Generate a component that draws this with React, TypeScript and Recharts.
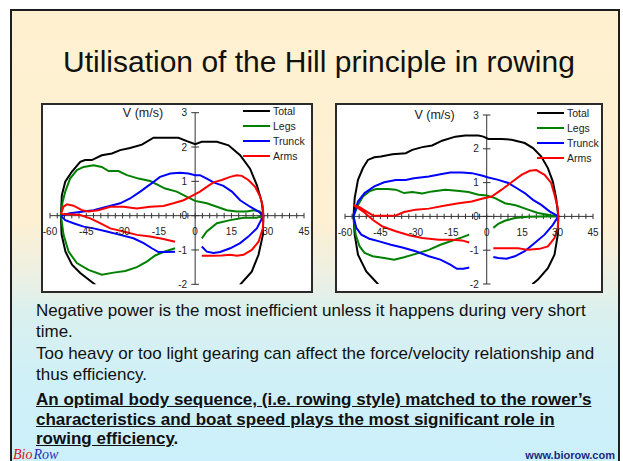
import React from 'react';
import { LineChart, Line, XAxis, YAxis, ReferenceLine, ReferenceDot, Legend } from 'recharts';

type P = [number, number];

const seriesNames = ['Total', 'Legs', 'Trunck', 'Arms'];
const seriesColors = ['#000000', '#008000', '#0000FF', '#FF0000'];
const xTickLabels = [-60, -45, -30, -15, 0, 15, 30, 45];
const xMinorTicks = [-60, -57, -54, -51, -48, -45, -42, -39, -36, -33, -30, -27, -24, -21, -18, -15, -12, -9, -6, -3, 0, 3, 6, 9, 12, 15, 18, 21, 24, 27, 30, 33, 36, 39, 42, 45];
const yTickLabels = [-2, -1, 0, 1, 2, 3];

// ---------- Left chart ----------
const leftTotalDrive: P[] = [[-55.5, 0], [-55.1, 0.6], [-53.7, 0.99], [-51, 1.28], [-47.5, 1.57], [-45.5, 1.62], [-42.7, 1.62], [-38.6, 1.76], [-34.4, 1.81], [-31, 1.91], [-26.9, 1.97], [-22, 2.07], [-17.2, 2.27], [-11.7, 2.27], [-6.9, 2.27], [-3.4, 2.17], [0, 2.08], [2.75, 2.15], [9, 2.15], [13.8, 2.05], [18.6, 1.76], [22.7, 1.37], [25.5, 0.89], [27.5, 0.41], [28.2, 0]];
const leftTotalRecR: P[] = [[28.2, 0], [28, -0.56], [26.2, -1.14], [23.4, -1.63], [18.6, -2.01], [16.5, -2.25]];
const leftTotalRecL: P[] = [[-39.5, -2.2], [-41.3, -2.01], [-47.5, -1.67], [-50.9, -1.43], [-53.6, -1.05], [-55.2, -0.55], [-55.5, 0]];

const leftLegsDrive: P[] = [[-55.5, 0], [-54.8, 0.4], [-53.7, 0.7], [-51.7, 1.08], [-48.9, 1.33], [-46.1, 1.42], [-42, 1.47], [-38.6, 1.42], [-35.8, 1.3], [-31.7, 1.3], [-28.2, 1.18], [-23.4, 1.08], [-18.6, 1.01], [-15.2, 0.89], [-12.4, 0.79], [-7.6, 0.7], [-3.4, 0.55], [0, 0.43], [4.8, 0.36], [9, 0.26], [13.1, 0.16], [17.2, 0.12], [21.3, 0.12], [24.1, 0.16], [26.9, 0.12], [28.2, 0]];
const leftLegsRecR: P[] = [[28.2, 0], [25.5, -0.06], [20, -0.06], [14.5, -0.13], [9, -0.22], [4.8, -0.46], [2.75, -0.66]];
const leftLegsRecL: P[] = [[-8.3, -0.95], [-13.1, -1.06], [-16.5, -1.16], [-20, -1.34], [-24.1, -1.5], [-28.9, -1.61], [-33.7, -1.66], [-38.6, -1.72], [-44.1, -1.58], [-48.9, -1.38], [-52.3, -1.05], [-54.4, -0.56], [-55.5, 0]];

const leftTrunkDrive: P[] = [[-55.5, 0], [-51.7, 0.07], [-46.1, 0.12], [-42, 0.16], [-36.5, 0.26], [-31, 0.36], [-26.9, 0.5], [-22.7, 0.7], [-18.6, 0.91], [-14.5, 1.13], [-10.3, 1.23], [-6.2, 1.25], [-2.75, 1.23], [0, 1.18], [2, 1.18], [4.8, 1.08], [7.6, 0.97], [11.7, 0.87], [15.2, 0.7], [18.6, 0.45], [22.7, 0.26], [26.2, 0.12], [28.2, 0]];
const leftTrunkRecR: P[] = [[28.2, 0], [25.5, -0.37], [22, -0.61], [18.6, -0.8], [14.5, -0.95], [10.3, -1.06], [7.6, -1.09], [4.8, -1.05], [2.75, -0.9]];
const leftTrunkRecL: P[] = [[-8.3, -1.05], [-11.7, -1.06], [-15.2, -1.06], [-17.9, -0.95], [-21.3, -0.8], [-25.5, -0.66], [-31, -0.56], [-36.5, -0.46], [-42, -0.37], [-46.1, -0.32], [-50.3, -0.22], [-53.7, -0.13], [-55.5, 0]];

const leftArmsDrive: P[] = [[-55.5, 0.05], [-54.4, 0.26], [-53, 0.33], [-50.3, 0.29], [-46.8, 0.16], [-44.1, 0.12], [-40, 0.16], [-35.1, 0.26], [-29.6, 0.26], [-24.1, 0.21], [-18.6, 0.26], [-13.1, 0.28], [-9, 0.36], [-4.8, 0.45], [-0.7, 0.6], [2, 0.7], [4.8, 0.84], [7.6, 0.97], [11, 1.04], [14.5, 1.13], [17.2, 1.18], [19.3, 1.16], [22, 1.04], [24.8, 0.84], [26.9, 0.55], [28, 0.26], [28.2, 0]];
const leftArmsRecR: P[] = [[28.2, 0], [28, -0.37], [26.2, -0.76], [23.4, -1], [20, -1.14], [17.2, -1.17], [14.5, -1.14], [11, -1.16], [7.6, -1.17], [2.75, -1.17]];
const leftArmsRecL: P[] = [[-8.3, -0.76], [-13.1, -0.68], [-18.6, -0.61], [-24.1, -0.56], [-29.6, -0.46], [-35.1, -0.37], [-39.3, -0.22], [-43.4, -0.08], [-47.5, 0.02], [-51.7, 0.04], [-55.5, 0.05]];

// ---------- Right chart ----------
const rightTotalDrive: P[] = [[-56.4, 0], [-55.9, 0.54], [-54.5, 1.08], [-52.4, 1.43], [-50.3, 1.67], [-47.6, 1.75], [-44.8, 1.77], [-39.9, 1.84], [-34.3, 1.87], [-31.5, 1.97], [-27.3, 2.05], [-23.1, 2.1], [-18.9, 2.24], [-13.3, 2.36], [-9.1, 2.39], [-3.5, 2.39], [-1.4, 2.36], [0.7, 2.29], [6.3, 2.29], [10.5, 2.27], [16.1, 2.17], [19.6, 2.02], [23.1, 1.77], [25.9, 1.43], [28, 1.03], [29.4, 0.54], [30.3, 0]];
const rightTotalRecR: P[] = [[30.3, 0], [30.1, -0.54], [28.7, -1.13], [25.9, -1.53], [21.7, -1.87], [19.6, -1.99], [17.5, -2.2]];
const rightTotalRecL: P[] = [[-44.5, -2.2], [-46.2, -1.99], [-51, -1.63], [-54.5, -1.13], [-55.9, -0.54], [-56.4, 0]];

const rightLegsDrive: P[] = [[-56.4, 0], [-54.5, 0.34], [-52.4, 0.59], [-49.7, 0.74], [-46.9, 0.81], [-42, 0.81], [-38.5, 0.79], [-35, 0.69], [-31.5, 0.72], [-27.3, 0.68], [-23.1, 0.74], [-17.5, 0.79], [-12.6, 0.76], [-7.7, 0.72], [-3.5, 0.64], [0, 0.62], [3.5, 0.54], [7.7, 0.39], [12.6, 0.32], [17.5, 0.2], [21.7, 0.1], [25.9, 0.05], [30.3, 0]];
const rightLegsRecR: P[] = [[30.3, 0], [23.1, 0], [17.5, -0.01], [11.9, -0.05], [7.7, -0.13], [4.9, -0.22], [2.8, -0.34]];
const rightLegsRecL: P[] = [[-7.4, -0.54], [-10.5, -0.62], [-14.7, -0.72], [-19.6, -0.84], [-24.5, -0.99], [-30.1, -1.11], [-35, -1.21], [-39.2, -1.28], [-43.4, -1.23], [-48.3, -1.18], [-51.7, -1.08], [-53.8, -0.89], [-55.5, -0.54], [-56.4, 0]];

const rightTrunkDrive: P[] = [[-56.4, 0], [-54.5, 0.44], [-51.7, 0.69], [-47.6, 0.89], [-43.4, 1.01], [-38.5, 1.08], [-34.3, 1.08], [-30.8, 1.13], [-24.5, 1.18], [-19.6, 1.25], [-15.4, 1.3], [-10.5, 1.3], [-6.3, 1.28], [-2.1, 1.21], [0.7, 1.15], [4.9, 1.08], [9.1, 0.99], [12.6, 0.84], [16.1, 0.69], [19.6, 0.49], [23.1, 0.34], [26.6, 0.15], [30.3, 0]];
const rightTrunkRecR: P[] = [[30.3, 0], [28, -0.25], [24.5, -0.54], [20.3, -0.79], [16.1, -1.03], [11.9, -1.18], [8.4, -1.25], [4.9, -1.23], [2.8, -1.2]];
const rightTrunkRecL: P[] = [[-7.4, -1.51], [-9.8, -1.55], [-12.6, -1.55], [-15.4, -1.43], [-19.6, -1.28], [-24.5, -1.18], [-30.1, -1.03], [-35.7, -0.92], [-40.6, -0.84], [-45.5, -0.74], [-49.7, -0.66], [-53.1, -0.54], [-55.2, -0.34], [-56.4, 0]];

const rightArmsDrive: P[] = [[-56.4, 0.34], [-53.8, 0.27], [-51, 0.15], [-48.3, 0.03], [-44.8, 0.02], [-38.5, 0.03], [-35, 0.13], [-30.1, 0.2], [-24.5, 0.23], [-17.5, 0.32], [-11.9, 0.39], [-6.3, 0.44], [-2.1, 0.52], [2.1, 0.59], [6.3, 0.79], [10.5, 1.01], [14.7, 1.23], [18.2, 1.35], [21, 1.37], [24.5, 1.23], [27.3, 0.99], [28.7, 0.64], [30.1, 0.25], [30.3, 0]];
const rightArmsRecR: P[] = [[30.3, 0], [30.1, -0.34], [28.7, -0.64], [25.9, -0.89], [22.4, -0.96], [17.5, -0.99], [13.3, -0.94], [9.8, -0.94], [6.3, -0.94], [2.8, -0.94]];
const rightArmsRecL: P[] = [[-7.4, -0.77], [-10.5, -0.71], [-14.7, -0.69], [-20.3, -0.69], [-27.3, -0.64], [-32.9, -0.56], [-38.5, -0.44], [-44.1, -0.3], [-48.3, -0.1], [-52.4, 0.15], [-56.4, 0.34]];

type Row = { x: number; y: number | null };

function toRows(drive: P[], recR: P[], recL: P[]): Row[] {
  const rows: Row[] = [];
  drive.forEach(([x, y]) => rows.push({ x, y }));
  recR.forEach(([x, y]) => rows.push({ x, y }));
  rows.push({ x: recR[recR.length - 1][0], y: null });
  recL.forEach(([x, y]) => rows.push({ x, y }));
  return rows;
}

const leftSeries = [
  toRows(leftTotalDrive, leftTotalRecR, leftTotalRecL),
  toRows(leftLegsDrive, leftLegsRecR, leftLegsRecL),
  toRows(leftTrunkDrive, leftTrunkRecR, leftTrunkRecL),
  toRows(leftArmsDrive, leftArmsRecR, leftArmsRecL),
];
const rightSeries = [
  toRows(rightTotalDrive, rightTotalRecR, rightTotalRecL),
  toRows(rightLegsDrive, rightLegsRecR, rightLegsRecL),
  toRows(rightTrunkDrive, rightTrunkRecR, rightTrunkRecL),
  toRows(rightArmsDrive, rightArmsRecR, rightArmsRecL),
];

const FONT = '"Liberation Sans", Arial, Helvetica, sans-serif';
const AXIS = '#333333';
const TEXT = '#222222';

const renderLegend = (props: any) => {
  const payload = [...(props.payload || [])].sort(
    (a: any, b: any) => seriesNames.indexOf(a.value) - seriesNames.indexOf(b.value)
  );
  return (
    <div style={{ fontFamily: FONT, fontSize: 10.5, color: TEXT }}>
      {payload.map((e: any) => (
        <div key={e.value} style={{ height: 15, display: 'flex', alignItems: 'center', whiteSpace: 'nowrap' }}>
          <span style={{ display: 'inline-block', width: 27, height: 2, background: e.color, marginRight: 3 }} />
          <span>{e.value}</span>
        </div>
      ))}
    </div>
  );
};

type ChartProps = {
  left: number;
  top: number;
  width: number;
  height: number;
  margin: { top: number; right: number; bottom: number; left: number };
  series: Row[][];
  legendTop: number;
};

function LoopChart({ left, top, width, height, margin, series, legendTop }: ChartProps) {
  return (
    <div style={{ position: 'absolute', left, top, width, height, background: '#ffffff' }}>
      <LineChart width={width} height={height} margin={margin} style={{ fontFamily: FONT }}>
        <XAxis type="number" dataKey="x" domain={[-60, 45]} allowDataOverflow hide />
        <YAxis type="number" domain={[-2, 3]} allowDataOverflow hide />
        <ReferenceLine y={0} stroke={AXIS} strokeWidth={1} />
        <ReferenceLine x={0} stroke={AXIS} strokeWidth={1} />
        {xMinorTicks.map((t) => (
          <ReferenceLine key={'xt' + t} segment={[{ x: t, y: -0.08 }, { x: t, y: 0.08 }]} stroke={AXIS} strokeWidth={1} ifOverflow="visible" />
        ))}
        {yTickLabels.map((t) => (
          <ReferenceLine key={'yt' + t} segment={[{ x: -1.6, y: t }, { x: 1.6, y: t }]} stroke={AXIS} strokeWidth={1} ifOverflow="visible" />
        ))}
        {xTickLabels.map((t) => (
          <ReferenceDot
            key={'xl' + t}
            x={t}
            y={0}
            r={0}
            fill="none"
            stroke="none"
            ifOverflow="visible"
            label={{ value: String(t), position: 'bottom', offset: 12, fontSize: 10, fill: TEXT, fontFamily: FONT }}
          />
        ))}
        {yTickLabels.map((t) => (
          <ReferenceDot
            key={'yl' + t}
            x={0}
            y={t}
            r={0}
            fill="none"
            stroke="none"
            ifOverflow="visible"
            label={{ value: String(t), position: 'left', offset: 8, fontSize: 10, fill: TEXT, fontFamily: FONT }}
          />
        ))}
        <ReferenceDot
          x={0}
          y={3}
          r={0}
          fill="none"
          stroke="none"
          ifOverflow="visible"
          label={{ value: 'V (m/s)', position: 'left', offset: 32, fontSize: 12.5, fill: TEXT, fontFamily: FONT }}
        />
        {series.map((rows, i) => (
          <Line
            key={seriesNames[i]}
            data={rows}
            dataKey="y"
            name={seriesNames[i]}
            stroke={seriesColors[i]}
            strokeWidth={2}
            type="linear"
            dot={false}
            activeDot={false}
            connectNulls={false}
            isAnimationActive={false}
            legendType="line"
          />
        ))}
        <Legend
          layout="vertical"
          align="center"
          verticalAlign="middle"
          wrapperStyle={{ top: legendTop, left: 202, width: 68 }}
          content={renderLegend}
        />
      </LineChart>
      <div
        style={{
          position: 'absolute',
          left: 0,
          top: 0,
          width,
          height,
          boxSizing: 'border-box',
          border: '2px solid #2a2a2a',
          pointerEvents: 'none',
        }}
      />
    </div>
  );
}

const bodyLines = [
  { text: 'Negative power is the most inefficient unless it happens during very short', top: 300, bold: false },
  { text: 'time.', top: 321, bold: false },
  { text: 'Too heavy or too light gearing can affect the force/velocity relationship and', top: 343, bold: false },
  { text: 'thus efficiency.', top: 364, bold: false },
  { text: 'An optimal body sequence, (i.e. rowing style) matched to the rower\u2019s', top: 389, bold: true },
  { text: 'characteristics and boat speed plays the most significant role in', top: 409, bold: true },
];

export default function App() {
  return (
    <div style={{ position: 'absolute', left: 0, top: 0, width: 623, height: 461, background: '#ffffff', overflow: 'hidden', fontFamily: FONT }}>
      <div
        style={{
          position: 'absolute',
          left: 10,
          top: 9,
          width: 610,
          height: 470,
          boxSizing: 'border-box',
          border: '2px solid #1e1e1e',
          background: 'linear-gradient(180deg, #FFF1D0 0%, #FDF0D3 45%, #EEF0E2 56%, #DAF0EF 65%, #D0F0F7 78%, #CBF0FC 100%)',
        }}
      />
      <div style={{ position: 'absolute', left: 63, top: 47, fontSize: 30, lineHeight: '30px', color: '#111', whiteSpace: 'nowrap' }}>
        Utilisation of the Hill principle in rowing
      </div>

      <LoopChart left={41} top={103} width={272} height={190} margin={{ top: 9.7, right: 9, bottom: 8.7, left: 9 }} series={leftSeries} legendTop={0.5} />
      <LoopChart left={335} top={103} width={268} height={190} margin={{ top: 12, right: 10, bottom: 9, left: 10 }} series={rightSeries} legendTop={2.8} />

      {bodyLines.map((l) => (
        <div
          key={l.text}
          style={{
            position: 'absolute',
            left: 36,
            top: l.top,
            fontSize: 17,
            lineHeight: '21px',
            color: '#111',
            whiteSpace: 'nowrap',
            fontWeight: l.bold ? 'bold' : 'normal',
            textDecoration: l.bold ? 'underline' : 'none',
          }}
        >
          {l.text}
        </div>
      ))}
      <div style={{ position: 'absolute', left: 36, top: 429, fontSize: 17, lineHeight: '19px', color: '#111', whiteSpace: 'nowrap', fontWeight: 'bold' }}>
        <span style={{ textDecoration: 'underline' }}>rowing efficiency</span>.
      </div>

      <div style={{ position: 'absolute', left: 13, top: 449, fontSize: 14, lineHeight: '12px', fontStyle: 'italic', fontFamily: '"Liberation Serif", serif', whiteSpace: 'nowrap' }}>
        <span style={{ color: '#e01010', marginRight: 1 }}>Bio</span>
        <span style={{ color: '#2233bb' }}>Row</span>
      </div>
      <div style={{ position: 'absolute', right: 8, top: 450, fontSize: 11, lineHeight: '11px', fontWeight: 'bold', color: '#1a2a80', whiteSpace: 'nowrap' }}>
        www.biorow.com
      </div>
    </div>
  );
}
